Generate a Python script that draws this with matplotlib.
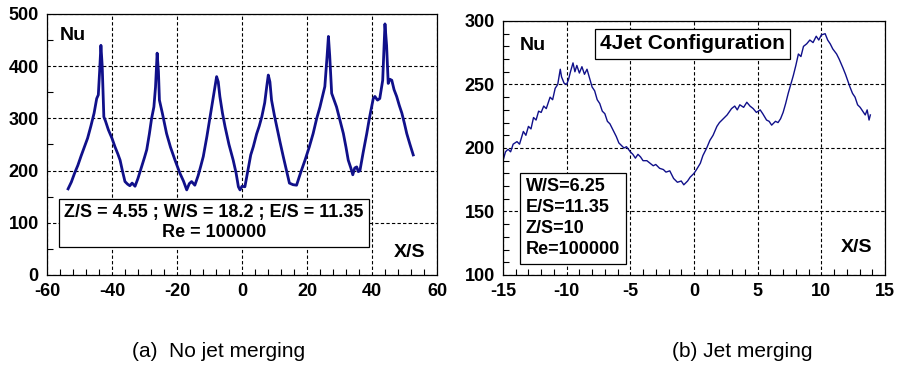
import numpy as np
import matplotlib.pyplot as plt
from matplotlib.ticker import MultipleLocator

plt.rcParams['font.family'] = ['Liberation Sans', 'DejaVu Sans']
plt.rcParams['axes.unicode_minus'] = False

# (a) no jet merging
xa = [-53.5, -52.5, -51.5, -50.5, -49.5, -48.5, -47.5, -46.5, -45.5, -44.7,
      -44.2, -43.8, -43.4, -43.0, -42.5, -42.0, -41.1, -40.0, -39.1, -38.2,
      -37.5, -36.8, -36.0, -35.2, -34.5, -33.8, -32.9, -32.0, -31.0, -30.0,
      -29.3, -28.5, -27.8, -27.1, -26.6, -26.1, -25.7, -25.4, -24.5, -23.2,
      -22.0, -20.6, -19.1, -18.0, -17.0, -16.2, -15.5, -14.5, -13.5, -12.7,
      -11.9, -10.8, -9.8, -8.8, -8.2, -7.8, -7.3, -6.8, -6.0, -5.2,
      -4.0, -2.7, -1.8, -1.1, -0.6, 0.0, 0.9, 1.8, 2.7, 3.5,
      4.5, 5.3, 6.1, 7.0, 7.6, 8.1, 8.6, 9.1, 10.0, 10.7,
      11.7, 12.7, 13.7, 14.6, 15.7, 16.8, 18.0, 19.4, 20.7, 21.9,
      23.0, 24.0, 24.5, 25.5, 26.2, 26.6, 27.0, 27.6, 29.1, 30.2,
      31.2, 32.0, 32.7, 33.5, 34.1, 34.7, 35.3, 35.8, 36.3, 37.3,
      38.4, 39.2, 39.9, 40.4, 40.9, 41.7, 42.4, 43.3, 44.0, 44.5,
      45.0, 45.5, 46.1, 46.8, 47.6, 48.4, 49.2, 50.0, 50.7, 51.7, 52.7]
nua = [165, 178, 195, 210, 228, 245, 262, 285, 310, 338,
       345, 390, 440, 400, 303, 295, 278, 262, 246, 232,
       220, 200, 179, 174, 171, 176, 170, 185, 205, 225,
       240, 270, 300, 322, 360, 425, 390, 335, 310, 271,
       245, 220, 195, 180, 163, 175, 179, 172, 190, 208,
       227, 265, 303, 340, 365, 380, 370, 342, 310, 284,
       250, 220, 195, 169, 163, 170, 169, 200, 230, 246,
       270, 285, 303, 330, 360, 383, 370, 335, 305, 284,
       255, 227, 200, 176, 173, 172, 195, 220, 245, 271,
       300, 322, 335, 361, 420, 457, 420, 348, 322, 295,
       271, 245, 220, 205, 192, 205, 207, 198, 200, 235,
       271, 300, 322, 338, 342, 335, 338, 373, 481, 440,
       367, 375, 373, 355, 342, 325, 310, 290, 271, 250, 230]

# (b) jet merging
xb = [-15.0, -14.8, -14.6, -14.4, -14.2, -13.9, -13.7, -13.4, -13.2, -13.0,
      -12.8, -12.6, -12.4, -12.2, -12.0, -11.8, -11.6, -11.3, -11.1, -10.9,
      -10.7, -10.5, -10.4, -10.2, -10.0, -9.85, -9.7, -9.5, -9.35, -9.2,
      -9.0, -8.8, -8.6, -8.4, -8.2, -8.0, -7.8, -7.6, -7.4, -7.2,
      -7.0, -6.8, -6.6, -6.3, -6.1, -5.9, -5.7, -5.5, -5.3, -5.0,
      -4.8, -4.6, -4.4, -4.2, -4.0, -3.7, -3.45, -3.2, -3.0, -2.7,
      -2.4, -2.2, -1.9, -1.6, -1.3, -1.0, -0.8, -0.5, -0.3, 0.0,
      0.2, 0.5, 0.7, 1.0, 1.25, 1.5, 1.8, 2.0, 2.3, 2.6,
      2.95, 3.2, 3.4, 3.6, 3.9, 4.15, 4.4, 4.65, 4.9, 5.2,
      5.4, 5.7, 5.9, 6.1, 6.4, 6.6, 6.8, 7.0, 7.2, 7.4,
      7.6, 7.8, 8.0, 8.2, 8.4, 8.6, 8.85, 9.1, 9.35, 9.6,
      9.8, 10.0, 10.3, 10.5, 10.7, 10.9, 11.2, 11.4, 11.7, 11.9,
      12.25, 12.45, 12.65, 12.85, 13.05, 13.25, 13.45, 13.6, 13.75, 13.85]
nub = [190, 197, 199, 197, 203, 205, 203, 213, 210, 217,
       215, 224, 222, 229, 228, 233, 231, 240, 238, 247,
       250, 262, 256, 251, 250, 254, 260, 267, 260, 265,
       259, 264, 258, 262, 255, 248, 245, 238, 235, 229,
       227, 221, 219, 213, 209, 204, 202, 200, 201, 197,
       195, 192, 195, 193, 190, 190, 188, 186, 187, 184,
       183, 181, 182, 176, 173, 174, 171, 174, 177, 180,
       183, 188, 194, 200, 206, 210, 217, 220, 223, 226,
       231, 233, 230, 234, 232, 236, 233, 231, 228, 230,
       227, 222, 221, 218, 221, 220, 223, 228, 235, 243,
       250, 257, 265, 274, 272, 280, 282, 285, 283, 288,
       285, 289, 290, 285, 282, 278, 274, 270, 263, 258,
       248, 243, 240, 234, 232, 229, 226, 230, 222, 226]

line_col = "#10108a"
bold = dict(fontweight="bold")

fig = plt.figure(figsize=(8.98, 3.70), dpi=100)


def style(ax):
    ax.grid(True, which="major", color="black", ls=(0, (3, 2)), lw=0.8)
    ax.tick_params(which="both", direction="in", top=False, right=False,
                   labelsize=13, width=0.8)
    ax.tick_params(axis="x", which="major", length=0, pad=6)
    ax.tick_params(axis="y", which="major", length=0, pad=6)
    ax.tick_params(which="minor", length=4)
    for lb in ax.get_xticklabels() + ax.get_yticklabels():
        lb.set_fontweight("bold")
    for s in ax.spines.values():
        s.set_linewidth(0.9)


# left panel
ax1 = fig.add_axes([0.0523, 0.2568, 0.4343, 0.7054])
ax1.plot(xa, nua, "-", color=line_col, lw=2.0)
ax1.set_xlim(-60, 60)
ax1.set_ylim(0, 500)
ax1.xaxis.set_major_locator(MultipleLocator(20))
ax1.xaxis.set_minor_locator(MultipleLocator(4))
ax1.yaxis.set_major_locator(MultipleLocator(100))
ax1.yaxis.set_minor_locator(MultipleLocator(50))
style(ax1)
ax1.text(0.033, 0.90, "Nu", transform=ax1.transAxes, fontsize=14, **bold)
ax1.text(0.93, 0.085, "X/S", transform=ax1.transAxes, fontsize=14,
         ha="center", va="center", **bold)
ax1.text(0.428, 0.20, "Z/S = 4.55 ; W/S = 18.2 ; E/S = 11.35\nRe = 100000",
         transform=ax1.transAxes, fontsize=13, ha="center", va="center",
         linespacing=1.2,
         bbox=dict(boxstyle="square,pad=0.3", fc="white", ec="black", lw=0.9),
         **bold)

# right panel
ax2 = fig.add_axes([0.5601, 0.2568, 0.4254, 0.6865])
ax2.plot(xb, nub, "-", color=line_col, lw=1.0)
ax2.set_xlim(-15, 15)
ax2.set_ylim(100, 300)
ax2.xaxis.set_major_locator(MultipleLocator(5))
ax2.xaxis.set_minor_locator(MultipleLocator(1))
ax2.yaxis.set_major_locator(MultipleLocator(50))
ax2.yaxis.set_minor_locator(MultipleLocator(10))
style(ax2)
ax2.text(0.045, 0.885, "Nu", transform=ax2.transAxes, fontsize=14, **bold)
ax2.text(0.925, 0.11, "X/S", transform=ax2.transAxes, fontsize=14,
         ha="center", va="center", **bold)
ax2.text(0.497, 0.91, "4Jet Configuration", transform=ax2.transAxes,
         fontsize=15, ha="center", va="center",
         bbox=dict(boxstyle="square,pad=0.25", fc="white", ec="black", lw=0.9),
         **bold)
ax2.text(0.06, 0.065, "W/S=6.25\nE/S=11.35\nZ/S=10\nRe=100000",
         transform=ax2.transAxes, fontsize=13, ha="left", va="bottom",
         linespacing=1.32,
         bbox=dict(boxstyle="square,pad=0.3", fc="white", ec="black", lw=0.9),
         **bold)

fig.text(0.243, 0.05, "(a)  No jet merging", fontsize=15, ha="center", va="center")
fig.text(0.827, 0.05, "(b) Jet merging", fontsize=15, ha="center", va="center")

fig.savefig("out.png", dpi=100)
